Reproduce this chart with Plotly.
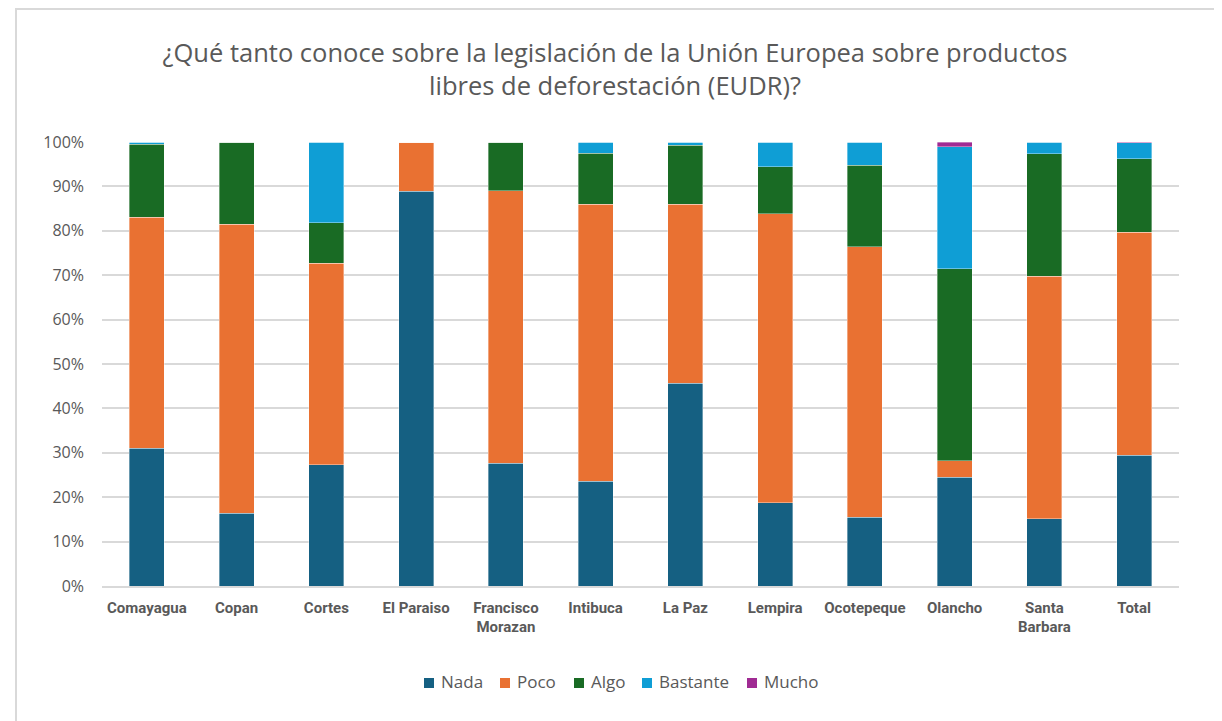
import plotly.graph_objects as go

categories = ["Comayagua", "Copan", "Cortes", "El Paraiso", "Francisco<br>Morazan", "Intibuca",
              "La Paz", "Lempira", "Ocotepeque", "Olancho", "Santa<br>Barbara", "Total"]
nada     = [31.0, 16.4, 27.3, 88.9, 27.7, 23.6, 45.7, 18.7, 15.5, 24.5, 15.1, 29.5]
poco     = [52.0, 65.1, 45.4, 11.1, 61.3, 62.4, 40.3, 65.1, 60.9,  3.7, 54.7, 50.2]
algo     = [16.5, 18.5,  9.1,  0.0, 11.0, 11.5, 13.3, 10.6, 18.4, 43.2, 27.5, 16.5]
bastante = [ 0.5,  0.0, 18.2,  0.0,  0.0,  2.5,  0.7,  5.6,  5.2, 27.5,  2.7,  3.6]
mucho    = [ 0.0,  0.0,  0.0,  0.0,  0.0,  0.0,  0.0,  0.0,  0.0,  1.1,  0.0,  0.2]

series = [("Nada", nada, "#156082"), ("Poco", poco, "#E97132"), ("Algo", algo, "#196B24"),
          ("Bastante", bastante, "#0F9ED5"), ("Mucho", mucho, "#A02B93")]

W, H = 1222, 721
ml, mr, mt, mb = 94, 51, 134, 143
pw, ph = W - ml - mr, H - mt - mb
FONT = "Open Sans, Noto Sans, sans-serif"

def px_to_paper(fx, fy):
    return (fx - ml) / pw, (H - mb - fy) / ph

fig = go.Figure()
for name, vals, color in series:
    fig.add_trace(go.Bar(x=categories, y=[v / 100 for v in vals], name=name, showlegend=False,
                         marker=dict(color=color, line=dict(width=0.6, color="rgba(255,255,255,0.6)"))))

# custom legend (square + label), laid out like the original
legend_square_x = [416, 492, 566, 634, 739]
for (name, vals, color), sx in zip(series, legend_square_x):
    x0, y0 = px_to_paper(sx, 680)
    x1, y1 = px_to_paper(sx + 10, 670)
    fig.add_shape(type="rect", xref="paper", yref="paper", x0=x0, x1=x1, y0=y0, y1=y1,
                  fillcolor=color, line=dict(width=0))
    tx, ty = px_to_paper(sx + 15, 673)
    fig.add_annotation(xref="paper", yref="paper", x=tx, y=ty, text=name, showarrow=False,
                       xanchor="left", yanchor="middle",
                       font=dict(size=17, color="#595959", family=FONT))

fig.update_layout(
    width=W, height=H,
    barmode="stack", bargap=0.61,
    plot_bgcolor="white", paper_bgcolor="white",
    margin=dict(l=ml, r=mr, t=mt, b=mb, autoexpand=False),
    font=dict(family=FONT, color="#595959"),
    title=dict(text="¿Qué tanto conoce sobre la legislación de la Unión Europea sobre productos<br>libres de deforestación (EUDR)?",
               x=607 / W, xanchor="center", y=1 - 54 / H, yanchor="middle",
               font=dict(size=25.5, color="#595959", family=FONT)),
    hovermode=False,
)
fig.update_yaxes(range=[0, 1.0], tickformat=".0%", dtick=0.1, showgrid=True, gridcolor="#d9d9d9",
                 gridwidth=1.5, zeroline=False, tickfont=dict(size=16, color="#595959", family=FONT),
                 ticks="", ticklabelstandoff=17)
fig.update_xaxes(showline=True, linecolor="#d9d9d9", linewidth=1.5,
                 tickfont=dict(size=15, color="#595959", family="Roboto, sans-serif", weight="bold"),
                 ticks="", tickangle=0, ticklabelstandoff=7)

fig.add_shape(type="rect", xref="paper", yref="paper",
              x0=(8 - ml) / pw, x1=(1208 - ml) / pw,
              y0=-(mb + 20) / ph, y1=1 + (mt - 1) / ph,
              line=dict(color="#d9d9d9", width=2), fillcolor="rgba(0,0,0,0)", layer="below")

fig.write_html("out.html")
